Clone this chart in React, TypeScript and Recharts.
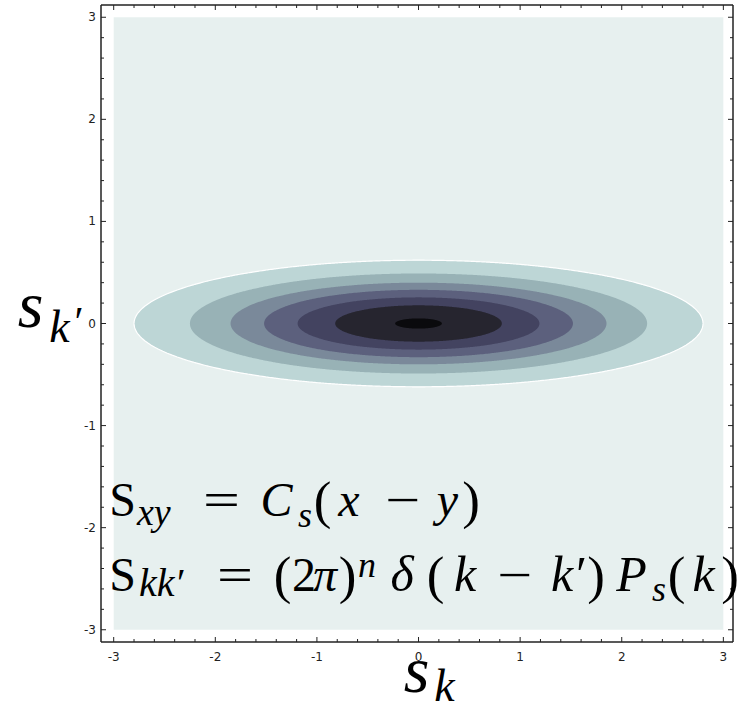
import React from 'react';
import { ComposedChart, Area, XAxis, YAxis } from 'recharts';

// ---------- data ----------
const xDomain: [number, number] = [-3.125, 3.095];
const yDomain: [number, number] = [-3.12, 3.12];
const allTicks = [
  -3, -2.8, -2.6, -2.4, -2.2, -2, -1.8, -1.6, -1.4, -1.2, -1, -0.8, -0.6, -0.4, -0.2, 0,
  0.2, 0.4, 0.6, 0.8, 1, 1.2, 1.4, 1.6, 1.8, 2, 2.2, 2.4, 2.6, 2.8, 3,
];
const fieldRange: [number, number] = [-3, 3];
const fieldColor = '#e7f0ef';
// contour bands, outer to inner (half-width along s_k, half-height along s_k')
const bandHalfWidths = [2.8, 2.25, 1.85, 1.52, 1.19, 0.82, 0.23];
const bandHalfHeights = [0.62, 0.49, 0.4, 0.33, 0.256, 0.178, 0.05];
const bandColors = ['#bdd6d6', '#98b2b6', '#7a899a', '#5c607d', '#434360', '#26252f', '#0a0a0d'];

// ---------- table for the library (ellipse outlines from the radii) ----------
const SAMPLES = 90;
const xSet = new Set<number>([fieldRange[0], fieldRange[1]]);
bandHalfWidths.forEach((a) => {
  for (let j = 0; j <= SAMPLES; j++) {
    xSet.add(-a * Math.cos((Math.PI * j) / SAMPLES));
  }
});
const xs = Array.from(xSet).sort((p, q) => p - q);
const table = xs.map((x) => {
  const row: any = { x, field: fieldRange };
  bandHalfWidths.forEach((a, i) => {
    if (Math.abs(x) <= a + 1e-12) {
      const r = Math.max(0, 1 - (x / a) * (x / a));
      const h = bandHalfHeights[i] * Math.sqrt(r);
      row['b' + i] = [-h, h];
    } else {
      row['b' + i] = null;
    }
  });
  return row;
});

const isMajor = (v: number) => Math.abs(v - Math.round(v)) < 1e-6;
const INK = '#222';
const tickFont = 'DejaVu Sans, sans-serif';

const BottomTick = (p: any) => {
  const v = p.payload.value;
  const m = isMajor(v);
  return (
    <g>
      <line x1={p.x} x2={p.x} y1={p.y} y2={p.y - (m ? 5 : 3)} stroke={INK} strokeWidth={1} />
      {m && (
        <text x={p.x} y={p.y + 19} textAnchor="middle" fontSize={12} fill={INK} fontFamily={tickFont}>
          {String(Math.round(v))}
        </text>
      )}
    </g>
  );
};
const TopTick = (p: any) => {
  const m = isMajor(p.payload.value);
  return <line x1={p.x} x2={p.x} y1={p.y} y2={p.y + (m ? 5 : 3)} stroke={INK} strokeWidth={1} />;
};
const LeftTick = (p: any) => {
  const v = p.payload.value;
  const m = isMajor(v);
  return (
    <g>
      <line x1={p.x} x2={p.x + (m ? 5 : 3)} y1={p.y} y2={p.y} stroke={INK} strokeWidth={1} />
      {m && (
        <text x={p.x - 5} y={p.y + 4} textAnchor="end" fontSize={12} fill={INK} fontFamily={tickFont}>
          {String(Math.round(v))}
        </text>
      )}
    </g>
  );
};
const RightTick = (p: any) => {
  const m = isMajor(p.payload.value);
  return <line x1={p.x} x2={p.x - (m ? 5 : 3)} y1={p.y} y2={p.y} stroke={INK} strokeWidth={1} />;
};

// glyph slots [x0, x1] measured on the reference; glyph centred in its slot
// (or started at x0 when 'start'), bars (= and −) stretched to the slot.
type Piece = {
  t: string; x0: number; x1: number; y: number; s: number;
  i?: boolean; bar?: boolean; start?: boolean;
};
const serif = 'Liberation Serif, DejaVu Serif, serif';

const formula: Piece[] = [
  // S_xy = C_s(x - y)
  { t: 'S', x0: 110, x1: 135, y: 516, s: 48 },
  { t: 'xy', x0: 137, x1: 182, y: 525, s: 38, i: true, start: true },
  { t: '=', x0: 203, x1: 240, y: 516, s: 48, bar: true },
  { t: 'C', x0: 258, x1: 295, y: 516, s: 48, i: true },
  { t: 's', x0: 297, x1: 313, y: 527, s: 36, i: true },
  { t: '(', x0: 315, x1: 330, y: 518, s: 53 },
  { t: 'x', x0: 335, x1: 363, y: 516, s: 48, i: true },
  { t: '\u2212', x0: 385, x1: 420, y: 516, s: 48, bar: true },
  { t: 'y', x0: 435, x1: 460, y: 516, s: 48, i: true },
  { t: ')', x0: 465, x1: 477, y: 518, s: 53 },
  // S_kk' = (2π)^n δ(k − k') P_s(k)
  { t: 'S', x0: 110, x1: 135, y: 591, s: 48 },
  { t: 'kk\u2032', x0: 139, x1: 207, y: 596, s: 40, i: true, start: true },
  { t: '=', x0: 217, x1: 253, y: 591, s: 48, bar: true },
  { t: '(', x0: 275, x1: 290, y: 593, s: 53 },
  { t: '2', x0: 295, x1: 313, y: 591, s: 48 },
  { t: '\u03c0', x0: 313, x1: 337, y: 591, s: 48, i: true },
  { t: ')', x0: 342, x1: 353, y: 593, s: 53 },
  { t: 'n', x0: 357, x1: 377, y: 577, s: 36, i: true },
  { t: '\u03b4', x0: 384, x1: 420, y: 591, s: 50, i: true },
  { t: '(', x0: 428, x1: 443, y: 593, s: 53 },
  { t: 'k', x0: 448, x1: 482, y: 591, s: 50, i: true },
  { t: '\u2212', x0: 497, x1: 532, y: 591, s: 48, bar: true },
  { t: 'k\u2032', x0: 548, x1: 587, y: 591, s: 50, i: true },
  { t: ')', x0: 590, x1: 602, y: 593, s: 53 },
  { t: 'P', x0: 613, x1: 650, y: 591, s: 50, i: true },
  { t: 's', x0: 650, x1: 668, y: 601, s: 36, i: true },
  { t: '(', x0: 670, x1: 683, y: 593, s: 53 },
  { t: 'k', x0: 687, x1: 720, y: 591, s: 50, i: true },
  { t: ')', x0: 723, x1: 737, y: 593, s: 53 },
  // axis labels
  { t: 's', x0: 405, x1: 428, y: 692, s: 66, i: true },
  { t: 'k', x0: 432, x1: 457, y: 701, s: 46, i: true },
  { t: 's', x0: 18, x1: 43, y: 327, s: 66, i: true },
  { t: 'k', x0: 47, x1: 72, y: 342, s: 46, i: true },
  { t: '\u2032', x0: 74, x1: 84, y: 336, s: 42 },
];

export default function App() {
  return (
    <div style={{ position: 'absolute', left: 0, top: 0, width: 742, height: 708, background: '#fff' }}>
      <ComposedChart
        width={742}
        height={708}
        data={table}
        margin={{ top: 4, right: 8, left: 100, bottom: 65 }}
      >
        <XAxis
          dataKey="x"
          type="number"
          domain={xDomain}
          allowDataOverflow
          ticks={allTicks}
          interval={0}
          height={1}
          tickSize={0}
          tickMargin={0}
          tick={<BottomTick />}
          tickLine={false}
          axisLine={{ stroke: INK, strokeWidth: 1.5 }}
        />
        <XAxis
          xAxisId="top"
          orientation="top"
          dataKey="x"
          type="number"
          domain={xDomain}
          allowDataOverflow
          ticks={allTicks}
          interval={0}
          height={1}
          tickSize={0}
          tickMargin={0}
          tick={<TopTick />}
          tickLine={false}
          axisLine={{ stroke: INK, strokeWidth: 1.5 }}
        />
        <YAxis
          type="number"
          domain={yDomain}
          allowDataOverflow
          ticks={allTicks}
          interval={0}
          width={1}
          tickSize={0}
          tickMargin={0}
          tick={<LeftTick />}
          tickLine={false}
          axisLine={{ stroke: INK, strokeWidth: 1.5 }}
        />
        <YAxis
          yAxisId="right"
          orientation="right"
          type="number"
          domain={yDomain}
          allowDataOverflow
          ticks={allTicks}
          interval={0}
          width={1}
          tickSize={0}
          tickMargin={0}
          tick={<RightTick />}
          tickLine={false}
          axisLine={{ stroke: INK, strokeWidth: 1.5 }}
        />
        <Area
          dataKey="field"
          type="linear"
          fill={fieldColor}
          fillOpacity={1}
          stroke="none"
          dot={false}
          activeDot={false}
          isAnimationActive={false}
        />
        {bandColors.map((c, i) => (
          <Area
            key={'b' + i}
            dataKey={'b' + i}
            type="linear"
            fill={c}
            fillOpacity={1}
            stroke={i === 0 ? '#ffffff' : 'none'}
            strokeWidth={i === 0 ? 1.2 : 0}
            dot={false}
            activeDot={false}
            connectNulls={false}
            isAnimationActive={false}
          />
        ))}
      </ComposedChart>
      <svg
        width={742}
        height={708}
        style={{ position: 'absolute', left: 0, top: 0, pointerEvents: 'none' }}
      >
        {formula.map((p, k) =>
          p.bar ? (
            <text
              key={k}
              x={p.x0}
              y={p.y}
              fontSize={p.s}
              fontFamily={serif}
              fill="#000"
              textLength={p.x1 - p.x0}
              lengthAdjust="spacingAndGlyphs"
            >
              {p.t}
            </text>
          ) : (
            <text
              key={k}
              x={p.start ? p.x0 : (p.x0 + p.x1) / 2}
              y={p.y}
              textAnchor={p.start ? 'start' : 'middle'}
              fontSize={p.s}
              fontStyle={p.i ? 'italic' : 'normal'}
              fontFamily={serif}
              fill="#000"
            >
              {p.t}
            </text>
          )
        )}
      </svg>
    </div>
  );
}
